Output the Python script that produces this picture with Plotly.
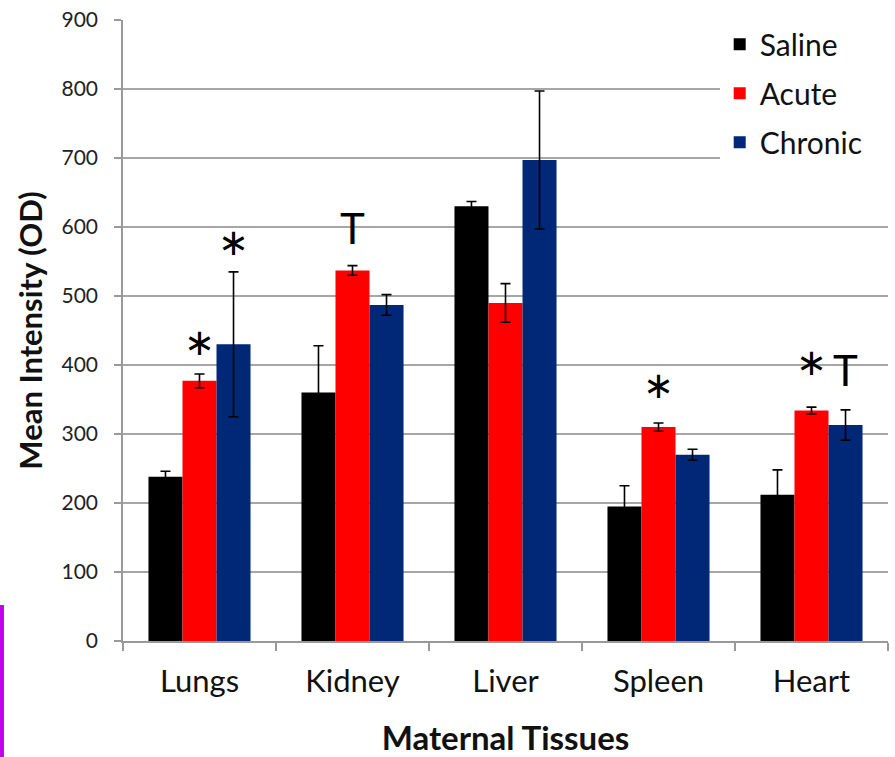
import plotly.graph_objects as go

categories = ["Lungs", "Kidney", "Liver", "Spleen", "Heart"]
saline = [238, 360, 630, 195, 212]
saline_err = [8, 68, 7, 30, 36]
acute = [377, 537, 490, 310, 334]
acute_err = [10, 7, 28, 6, 5]
chronic = [430, 487, 697, 270, 313]
chronic_err = [105, 15, 100, 8, 22]

# significance marks: (category index, bar offset -1/0/1, label, y value)
marks_cat = [0, 0, 1, 3, 4, 4]
marks_bar = [0, 1, 0, 0, 0, 1]
marks_text = ["∗", "∗", "T", "∗", "∗", "T"]
marks_y = [432, 577, 598, 371, 403, 393]

FONT = "Lato, 'Open Sans', sans-serif"
series = [("Saline", saline, saline_err, "#000000"),
          ("Acute", acute, acute_err, "#ff0000"),
          ("Chronic\u00a0\u00a0\u00a0", chronic, chronic_err, "#002877")]

fig = go.Figure()
for i, (name, vals, errs, col) in enumerate(series):
    fig.add_trace(go.Bar(
        name=name, x=categories, y=vals, marker=dict(color=col, line=dict(width=0)),
        error_y=dict(type="data", array=errs, visible=True, color="#000000",
                     thickness=1.6, width=5),
        legendgroup=f"g{i}",
    ))

bargap = 0.333
w = (1 - bargap) / 3
for c, b, t, yv in zip(marks_cat, marks_bar, marks_text, marks_y):
    if t == "T":
        f = dict(family=FONT, size=42, color="#000000")
    else:
        f = dict(family="DejaVu Sans", size=37, color="#000000")
    fig.add_annotation(x=c + b * w, y=yv, xref="x", yref="y", text=t,
                       showarrow=False, font=f)

fig.add_shape(type="rect", xref="paper", yref="paper",
              x0=-0.1608, x1=-0.1556, y0=-0.19, y1=0.058,
              fillcolor="#c000f0", line=dict(width=0), layer="above")

fig.update_layout(
    width=895, height=757,
    margin=dict(l=123, r=7, t=20, b=116, autoexpand=False),
    paper_bgcolor="white", plot_bgcolor="white",
    barmode="group", bargap=bargap, bargroupgap=0,
    font=dict(family=FONT, color="#1a1a1a"),
    showlegend=True,
    legend=dict(x=0.780, y=1.003, xanchor="left", yanchor="top",
                bgcolor="white", font=dict(size=30, family=FONT, color="#111"),
                traceorder="grouped", tracegroupgap=7, itemwidth=30),
)
fig.update_xaxes(
    type="category", showline=True, linecolor="#999", linewidth=1.5,
    ticks="outside", tickson="boundaries", ticklen=8, tickcolor="#999", tickwidth=1.5,
    ticklabelstandoff=12,
    tickfont=dict(size=31, family=FONT, color="#111"),
    title=dict(text="<b>Maternal Tissues</b>", font=dict(size=33, family=FONT, color="#111"),
               standoff=37),
    showgrid=False,
)
fig.update_yaxes(
    range=[0, 900], dtick=100, showline=True, linecolor="#999", linewidth=1.5,
    ticks="outside", ticklen=7, tickcolor="#999", tickwidth=1.5,
    ticklabelstandoff=12,
    showgrid=True, gridcolor="#a6a6a6", gridwidth=1.5,
    tickfont=dict(size=21, family=FONT, color="#222"),
    title=dict(text="<b>Mean Intensity (OD)</b>", font=dict(size=31, family=FONT, color="#111"),
               standoff=10),
    zeroline=False,
)

fig.write_html("out.html", config={"displayModeBar": False},
               post_script="document.body.style.margin='0px';")
